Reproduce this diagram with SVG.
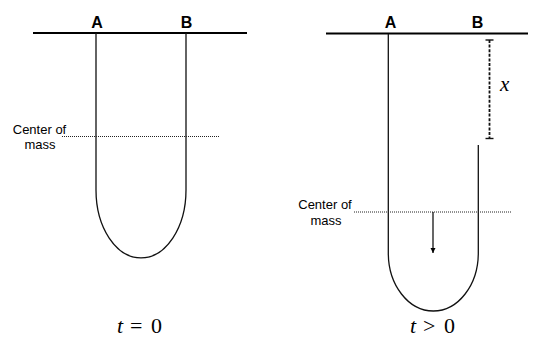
<svg xmlns="http://www.w3.org/2000/svg" width="534" height="337" viewBox="0 0 534 337">
<style>
.ceil{stroke:#000;stroke-width:2.2;fill:none}
.rope{stroke:#111;stroke-width:1.3;fill:none}
.dot{stroke:#222;stroke-width:1;stroke-dasharray:1 1;fill:none}
.dim{stroke:#111;stroke-width:1.8;stroke-dasharray:3 1.6;fill:none}
.tick{stroke:#111;stroke-width:1.4}
.lbl{font-family:"Liberation Sans",Arial,sans-serif;font-weight:bold;font-size:16px;fill:#000;text-anchor:middle}
.com{font-family:"Liberation Sans",Arial,sans-serif;font-size:13px;fill:#000;text-anchor:middle}
.math{font-family:"Liberation Serif","Times New Roman",serif;font-size:22px;fill:#000}
</style>
<defs>
<marker id="ah" viewBox="0 0 10 10" refX="10" refY="5" markerWidth="5" markerHeight="6" markerUnits="userSpaceOnUse" orient="auto">
<path d="M0,0 L10,5 L0,10 z" fill="#000"/>
</marker>
</defs>
<g id="left-diagram">
<g id="left-ceiling"><line class="ceil" x1="33" y1="33" x2="247" y2="33"/></g>
<g id="left-A"><text class="lbl" x="97" y="28">A</text></g>
<g id="left-B"><text class="lbl" x="186.5" y="28">B</text></g>
<g id="left-rope"><path class="rope" d="M96,33 L96,190 A45,68 0 0 0 186,190 L186,33"/></g>
<g id="left-com"><text class="com" x="39.5" y="134">Center of</text><text class="com" x="40" y="149">mass</text></g>
<g id="left-caption"><text class="math" y="333"><tspan x="117" font-style="italic">t</tspan><tspan x="130">=</tspan><tspan x="151">0</tspan></text></g>
</g>
<g id="right-diagram">
<g id="right-ceiling"><line class="ceil" x1="326" y1="33.5" x2="528" y2="33.5"/></g>
<g id="right-A"><text class="lbl" x="390.5" y="28">A</text></g>
<g id="right-B"><text class="lbl" x="477.5" y="28">B</text></g>
<g id="right-rope"><path class="rope" d="M388.3,34 L388.3,253 A45,58 0 0 0 478.3,253 L478.3,145"/></g>
<g id="right-com"><text class="com" x="325" y="209">Center of</text><text class="com" x="326" y="225">mass</text></g>
<g id="x-label"><text x="500" y="91" font-family="'Liberation Serif','Times New Roman',serif" font-style="italic" font-size="21" fill="#000">x</text></g>
<g id="right-caption"><text class="math" y="333"><tspan x="410" font-style="italic">t</tspan><tspan x="423">&gt;</tspan><tspan x="444">0</tspan></text></g>
</g>
<g id="connectors">
<line class="dot" x1="62" y1="136.5" x2="219" y2="136.5"/>
<line class="dot" x1="354" y1="212" x2="512" y2="212"/>
<line stroke="#000" stroke-width="1.2" x1="433" y1="212" x2="433" y2="253" marker-end="url(#ah)"/>
<line class="dim" x1="489.5" y1="40" x2="489.5" y2="138.5"/>
<line class="tick" x1="485.5" y1="40" x2="493.5" y2="40"/>
<line class="tick" x1="485.5" y1="138.5" x2="493.5" y2="138.5"/>
</g>
</svg>
